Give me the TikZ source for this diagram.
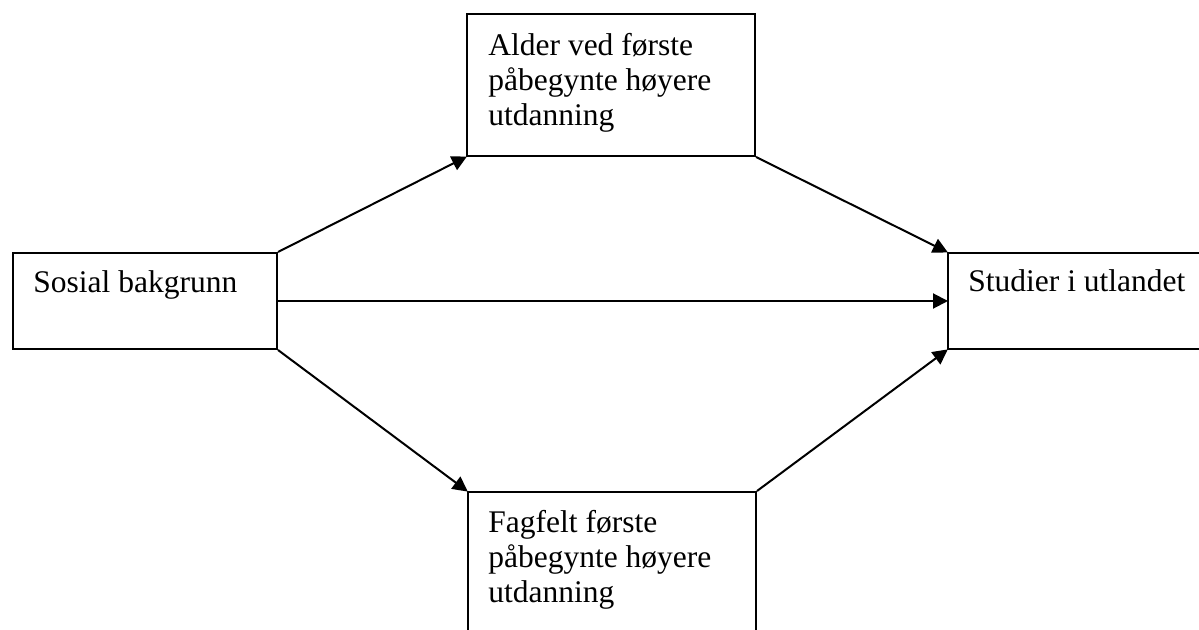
\documentclass[tikz,border=0pt]{standalone}
\usepackage{fontspec}
\setmainfont{Liberation Serif}
\usetikzlibrary{arrows.meta}
\begin{document}
\begin{tikzpicture}[x=0.5pt,y=-0.5pt,
  box/.style={draw, line width=1pt, inner sep=0pt, anchor=north west},
  lbl/.style={inner sep=0pt, anchor=base west, align=left, font=\fontsize{15.75pt}{17.5pt}\selectfont},
  mlbl/.style={lbl, anchor=north west},
  conn/.style={line width=1pt, -{Triangle[length=7.5pt,width=7.5pt]}, shorten >=-0.5pt}]
\useasboundingbox (0,0) rectangle (1199,630);
\clip (0,0) rectangle (1199,630);
\node[box, minimum width=132pt, minimum height=48pt] (sos) at (12,252) {};
\node[box, minimum width=144pt, minimum height=71pt] (age) at (466,13) {};
\node[box, minimum width=144pt, minimum height=80pt] (field) at (467,491) {};
\node[box, minimum width=140pt, minimum height=48pt] (stud) at (947,252) {};
\node[lbl] (tsos) at (33,293) {Sosial bakgrunn};
\node[mlbl] (tage) at (488,33) {Alder ved første\\påbegynte høyere\\utdanning};
\node[mlbl] (tfield) at (488,510) {Fagfelt første\\påbegynte høyere\\utdanning};
\node[lbl] (tstud) at (968,292) {Studier i utlandet};
\draw[conn] (sos.north east) -- (age.south west);
\draw[conn] (age.south east) -- (stud.north west);
\draw[conn] (sos.east) -- (stud.west);
\draw[conn] (sos.south east) -- (field.north west);
\draw[conn] (field.north east) -- (stud.south west);
\end{tikzpicture}
\end{document}
